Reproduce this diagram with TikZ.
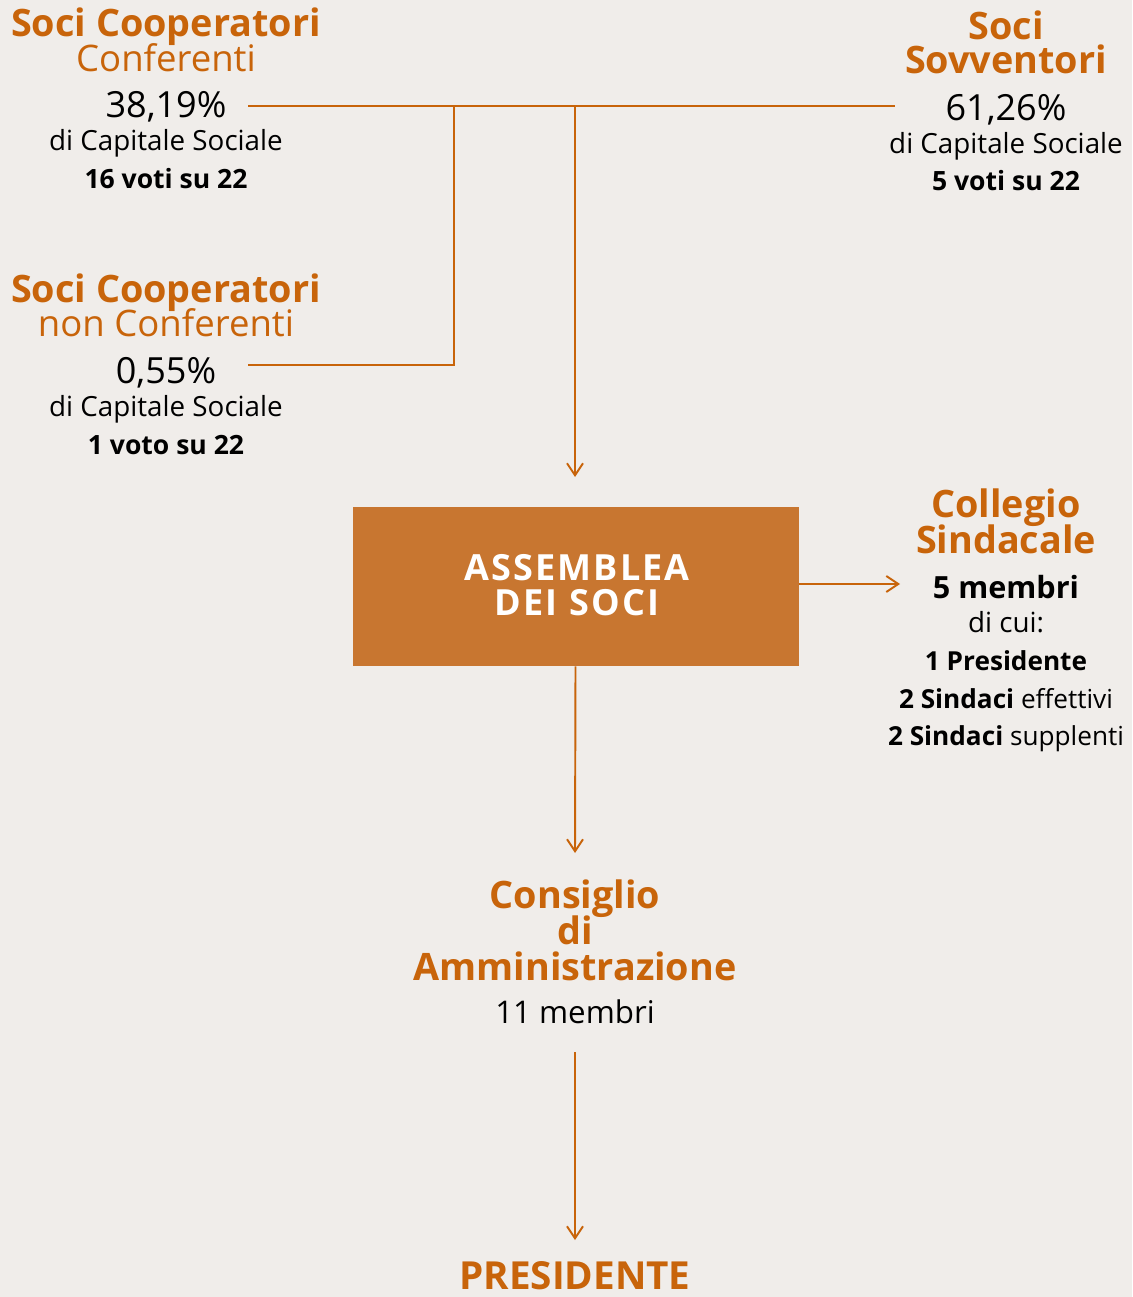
\documentclass[tikz,border=0pt]{standalone}
\usepackage{fontspec}
\setmainfont{Open Sans}
\usetikzlibrary{arrows.meta}
\definecolor{ocra}{RGB}{200,100,10}
\definecolor{cassa}{RGB}{200,118,48}
\definecolor{carta}{RGB}{240,237,234}
\tikzset{
  ttl/.style={anchor=base,inner sep=0pt,text=ocra,font=\fontsize{21.5}{25}\selectfont\bfseries},
  sub/.style={anchor=base,inner sep=0pt,text=ocra,font=\fontsize{20.8}{24}\selectfont},
  pct/.style={anchor=base,inner sep=0pt,font=\fontsize{20.5}{24}\selectfont},
  capt/.style={anchor=base,inner sep=0pt,font=\fontsize{15.8}{19}\selectfont},
  vot/.style={anchor=base,inner sep=0pt,font=\fontsize{15.1}{18}\selectfont\bfseries},
  sind/.style={anchor=base,inner sep=0pt,font=\fontsize{14.9}{18}\selectfont\bfseries},
  boxtxt/.style={anchor=base,text=white,font=\fontsize{20.5}{24}\selectfont\bfseries\addfontfeature{LetterSpace=6}},
  link/.style={draw=ocra,line width=1.1pt},
  arr/.style={link,-{Straight Barb[length=2.4mm,width=3.2mm]}},
}
\begin{document}
\begin{tikzpicture}[x=0.02cm,y=-0.02cm]
  \fill[carta] (0,0) rectangle (1132,1297);
  \useasboundingbox (0,0) rectangle (1132,1297);

  % soci cooperatori conferenti
  \node[ttl] (scc1) at (166,37) {Soci Cooperatori};
  \node[sub] (scc2) at (166,72) {Conferenti};
  \node[pct] (scc3) at (166,118) {38,19\%};
  \node[capt] (scc4) at (166,151) {di Capitale Sociale};
  \node[vot] (scc5) at (166,189) {16 voti su 22};

  % soci cooperatori non conferenti
  \node[ttl] (scn1) at (166,302) {Soci Cooperatori};
  \node[sub] (scn2) at (166,337) {non Conferenti};
  \node[pct] (scn3) at (166,383) {0,55\%};
  \node[capt] (scn4) at (166,416) {di Capitale Sociale};
  \node[vot] (scn5) at (166,454) {1 voto su 22};

  % soci sovventori
  \node[ttl] (ssv1) at (1006,40) {Soci};
  \node[ttl] (ssv2) at (1006,74) {Sovventori};
  \node[pct] (ssv3) at (1006,121) {61,26\%};
  \node[capt] (ssv4) at (1006,154) {di Capitale Sociale};
  \node[vot] (ssv5) at (1006,191) {5 voti su 22};

  % assemblea
  \node[fill=cassa,minimum width=446*0.02cm,minimum height=159*0.02cm,inner sep=0pt] (asm) at (575.5,586.5) {};
  \node[boxtxt] (asm1) at (577,580) {ASSEMBLEA};
  \node[boxtxt] (asm2) at (577,615) {DEI SOCI};

  % collegio sindacale
  \node[ttl] (cls1) at (1006,517) {Collegio};
  \node[ttl] (cls2) at (1006,553) {Sindacale};
  \node[vot,font=\fontsize{17.4}{21}\selectfont\bfseries] (cls3) at (1006,598) {5 membri};
  \node[capt] (cls4) at (1006,632) {di cui:};
  \node[sind] (cls5) at (1006,670) {1 Presidente};
  \node[sind] (cls6) at (1006,708) {2 Sindaci {\mdseries effettivi}};
  \node[sind] (cls7) at (1006,745) {2 Sindaci {\mdseries supplenti}};

  % consiglio di amministrazione
  \node[ttl] (cda1) at (575,908) {Consiglio};
  \node[ttl] (cda2) at (575,944) {di};
  \node[ttl] (cda3) at (575,980) {Amministrazione};
  \node[pct,font=\fontsize{17.8}{21}\selectfont] (cda4) at (575,1023) {11 membri};

  \node[ttl,font=\fontsize{22}{26}\selectfont\bfseries] (pres) at (575,1289) {PRESIDENTE};

  % collegamenti
  \coordinate (a1) at (248,106);
  \coordinate (a2) at (895,106);
  \coordinate (b1) at (248,365);
  \coordinate (b2) at (454,106);
  \coordinate (c1) at (575,106);
  \coordinate (c2) at (575,477);
  \coordinate (d2) at (900,584);
  \coordinate (e2) at (575,853);
  \coordinate (f1) at (575,1052);
  \coordinate (f2) at (575,1240);

  \draw[link] (a1) -- (a2);
  \draw[link] (b1) -| (b2);
  \draw[arr] (c1) -- (c2);
  \draw[arr] (asm.east |- d2) -- (d2);
  \draw[arr] (asm.south) -- (e2);
  \draw[arr] (f1) -- (f2);
\end{tikzpicture}
\end{document}
